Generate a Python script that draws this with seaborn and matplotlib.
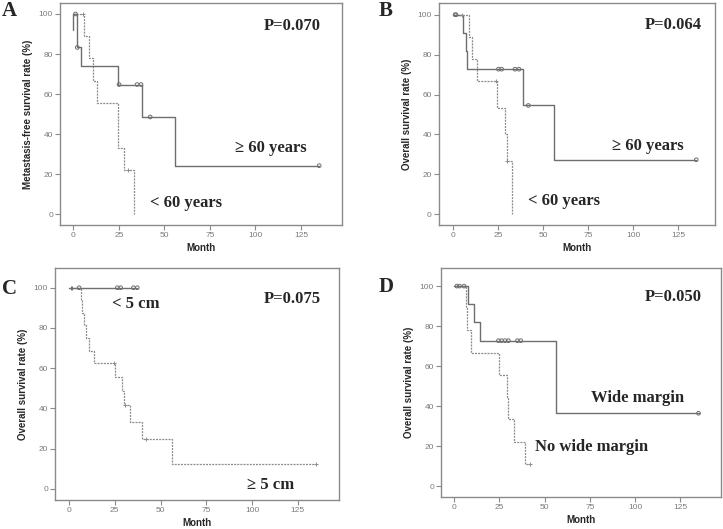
import numpy as np
import pandas as pd
import matplotlib
matplotlib.use("Agg")
import matplotlib.pyplot as plt
import seaborn as sns

# ---------------- data ----------------
# Panel A
a_solid_t = [0, 0, 2.2, 4.2, 24.4, 37.9, 56.0, 135.0]
a_solid_s = [92, 100, 83.3, 74.1, 64.8, 48.6, 24.3, 24.3]
a_solid_ct = [1.2, 2.2, 25.1, 35.0, 37.2, 42.2, 135.0]
a_solid_cs = [100, 83.3, 64.8, 64.8, 64.8, 48.6, 24.3]
a_dash_t = [0, 6.0, 8.6, 11.0, 13.2, 24.4, 28.0, 33.2]
a_dash_s = [100, 88.9, 77.8, 66.7, 55.6, 33.3, 22.2, 0]
a_dash_ct = [5.5, 30.2]
a_dash_cs = [100, 22.2]

# Panel B
b_solid_t = [0, 5.9, 7.2, 8.1, 39.1, 55.9, 135.0]
b_solid_s = [100, 90.9, 81.8, 72.7, 54.5, 27.3, 27.3]
b_solid_ct = [1.3, 1.8, 25.3, 27.1, 34.5, 36.7, 41.9, 135.0]
b_solid_cs = [100, 100, 72.7, 72.7, 72.7, 72.7, 54.5, 27.3]
b_dash_t = [0, 9.2, 10.9, 13.6, 24.7, 29.0, 29.9, 32.9]
b_dash_s = [100, 88.9, 77.8, 66.7, 53.3, 40.0, 26.7, 0]
b_dash_ct = [5.0, 23.8, 30.0]
b_dash_cs = [100, 66.7, 26.7]

# Panel C
c_solid_t = [0, 37.3]
c_solid_s = [100, 100]
c_solid_ct = [5.5, 26.4, 28.2, 35.2, 37.3]
c_solid_cs = [100, 100, 100, 100, 100]
c_solid_pt = [0.9, 1.8]
c_solid_ps = [100, 100]
c_dash_t = [0, 6.4, 7.3, 8.2, 9.1, 11.1, 13.9, 25.1, 29.2, 30.0, 33.3, 39.7, 56.2, 135.0]
c_dash_s = [100, 93.75, 87.5, 81.25, 75.0, 68.75, 62.5, 55.6, 48.6, 41.7, 33.3, 25.0, 12.5, 12.5]
c_dash_ct = [24.6, 30.5, 42.0, 135.0]
c_dash_cs = [62.5, 41.7, 25.0, 12.5]

# Panel D
d_solid_t = [0, 7.9, 11.0, 14.4, 56.1, 135.0]
d_solid_s = [100, 90.9, 81.8, 72.7, 36.4, 36.4]
d_solid_ct = [1.5, 3.0, 5.5, 24.5, 26.3, 28.2, 30.0, 35.0, 36.8, 135.0]
d_solid_cs = [100, 100, 100, 72.7, 72.7, 72.7, 72.7, 72.7, 72.7, 36.4]
d_dash_t = [0, 6.4, 7.4, 9.2, 25.0, 29.5, 30.0, 33.0, 39.2, 42.0]
d_dash_s = [100, 88.9, 77.8, 66.7, 55.6, 44.4, 33.3, 22.2, 11.1, 11.1]
d_dash_ct = [42.0]
d_dash_cs = [11.1]

x_ticks = [0, 25, 50, 75, 100, 125]
y_ticks = [0, 20, 40, 60, 80, 100]

# ---------------- style ----------------
sns.set_style("white")
plt.rcParams['font.family'] = ['Liberation Sans', 'DejaVu Sans']

SERIF = ['Liberation Serif', 'DejaVu Serif']
FRAME = '#8a8a8a'
SOLID_C = '#6e6e6e'
DASH_C = '#8c8c8c'

fig = plt.figure(figsize=(7.23, 5.29), dpi=100)

panels = [
    dict(rect=[0.083, 0.5747, 0.390, 0.4197], xlim=(-7.3, 147.5), ylim=(-5.3, 105.5),
         ylabel="Metastasis-free survival rate (%)", letter="A", letter_xy=(2, 16),
         p="P=0.070", p_xy=(136, 94),
         labels=[("\u2265 60 years", 88.6, 33.1), ("< 60 years", 42, 5.9)],
         solid=(a_solid_t, a_solid_s, a_solid_ct, a_solid_cs, None, None),
         dash=(a_dash_t, a_dash_s, a_dash_ct, a_dash_cs)),
    dict(rect=[0.6068, 0.5747, 0.3817, 0.419], xlim=(-7.8, 145.2), ylim=(-5.4, 105.7),
         ylabel="Overall survival rate (%)", letter="B", letter_xy=(379, 16),
         p="P=0.064", p_xy=(138, 95),
         labels=[("\u2265 60 years", 88.3, 34), ("< 60 years", 41.5, 6.4)],
         solid=(b_solid_t, b_solid_s, b_solid_ct, b_solid_cs, None, None),
         dash=(b_dash_t, b_dash_s, b_dash_ct, b_dash_cs)),
    dict(rect=[0.0761, 0.0548, 0.3932, 0.4386], xlim=(-7.65, 147.7), ylim=(-5.5, 109.8),
         ylabel="Overall survival rate (%)", letter="C", letter_xy=(2, 294),
         p="P=0.075", p_xy=(137.6, 94.5),
         labels=[("< 5 cm", 23.3, 91.9), ("\u2265 5 cm", 97.1, 2.2)],
         solid=(c_solid_t, c_solid_s, c_solid_ct, c_solid_cs, c_solid_pt, c_solid_ps),
         dash=(c_dash_t, c_dash_s, c_dash_ct, c_dash_cs)),
    dict(rect=[0.61, 0.0599, 0.3877, 0.4329], xlim=(-7.2, 147.6), ylim=(-5.65, 108.9),
         ylabel="Overall survival rate (%)", letter="D", letter_xy=(379, 292),
         p="P=0.050", p_xy=(137, 94.6),
         labels=[("Wide margin", 75.5, 44), ("No wide margin", 44.9, 19.5)],
         solid=(d_solid_t, d_solid_s, d_solid_ct, d_solid_cs, None, None),
         dash=(d_dash_t, d_dash_s, d_dash_ct, d_dash_cs)),
]

for P in panels:
    ax = fig.add_axes(P['rect'])
    st, ss, sct, scs, spt, sps = P['solid']
    dt, ds, dct, dcs = P['dash']
    sns.lineplot(x=dt, y=ds, ax=ax, drawstyle='steps-post', estimator=None, sort=False,
                 color=DASH_C, linewidth=0.9, linestyle=(0, (1.6, 0.9)))
    sns.lineplot(x=st, y=ss, ax=ax, drawstyle='steps-post', estimator=None, sort=False,
                 color=SOLID_C, linewidth=1.0)
    sns.scatterplot(x=sct, y=scs, ax=ax, marker='o', s=7, facecolors='none',
                    edgecolor=SOLID_C, linewidth=0.7, zorder=5)
    if spt is not None:
        sns.scatterplot(x=spt, y=sps, ax=ax, marker='+', s=8, color=SOLID_C,
                        linewidth=0.7, zorder=5)
    sns.scatterplot(x=dct, y=dcs, ax=ax, marker='+', s=8, color=DASH_C,
                    linewidth=0.7, zorder=5)

    ax.set_xlim(*P['xlim'])
    ax.set_ylim(*P['ylim'])
    ax.set_xticks(x_ticks)
    ax.set_yticks(y_ticks)
    ax.set_xticklabels([str(v) for v in x_ticks])
    ax.set_yticklabels([str(v) for v in y_ticks])
    ax.tick_params(axis='both', which='major', direction='out', length=3.5, width=0.8,
                   color=FRAME, labelcolor='#7a7a7a', labelsize=6, pad=1.5)
    ax.tick_params(top=False, right=False, bottom=True, left=True)
    for sp in ax.spines.values():
        sp.set_color(FRAME)
        sp.set_linewidth(1.0)
        sp.set_visible(True)
    ax.set_xlabel("Month", fontsize=7, fontweight='bold', labelpad=3)
    ax.set_ylabel(P['ylabel'], fontsize=7, fontweight='bold', labelpad=4)

    ax.text(P['p_xy'][0], P['p_xy'][1], P['p'], ha='right', va='center',
            fontsize=12, fontweight='bold', family=SERIF)
    for txt, x, y in P['labels']:
        ax.text(x, y, txt, ha='left', va='center', fontsize=12, fontweight='bold',
                family=SERIF)
    lx, ly = P['letter_xy']
    fig.text(lx / 723, 1 - ly / 529, P['letter'], ha='left', va='baseline',
             fontsize=15, fontweight='bold', family=SERIF)

fig.savefig("out.png", dpi=100)
